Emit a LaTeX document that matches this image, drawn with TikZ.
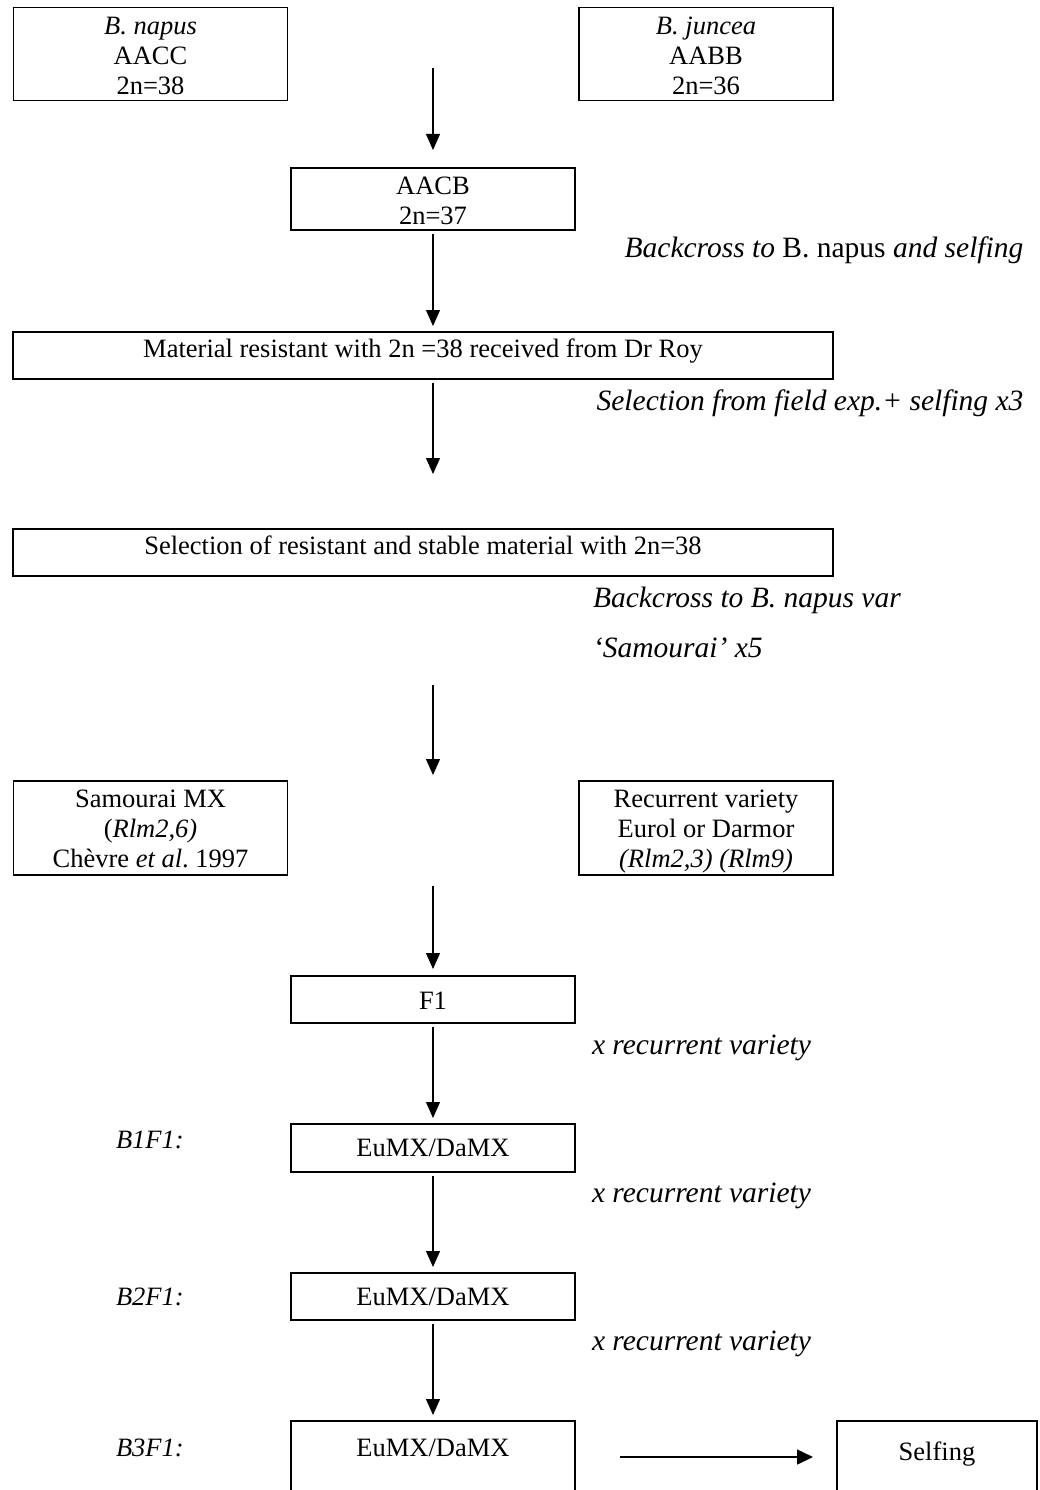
\documentclass[tikz,border=0pt]{standalone}
\usepackage{fontspec}
\setmainfont{Liberation Serif}
\usetikzlibrary{arrows.meta}
\begin{document}
\begin{tikzpicture}[x=1pt, y=-1pt,
  box/.style={draw=black, line width=1.5pt, inner sep=0pt, outer sep=0pt},
  txt/.style={inner sep=0pt, outer sep=0pt, font=\fontsize{26.5}{30}\selectfont, anchor=base},
  itxt/.style={txt, font=\fontsize{26.5}{30}\selectfont\itshape},
  side/.style={txt, font=\fontsize{29.5}{34}\selectfont},
  iside/.style={txt, font=\fontsize{29.5}{34}\selectfont\itshape},
  flow/.style={line width=1.2pt, -{Triangle[length=16pt,width=14pt]}},
  hflow/.style={line width=1.5pt, -{Triangle[length=16pt,width=15pt]}}
]
\useasboundingbox (0,0) rectangle (1039,1490);
\clip (0,0) rectangle (1039,1490);
\fill[white] (0,0) rectangle (1039,1490);

% ---------- boxes ----------
\node[box, minimum width=274pt, minimum height=93pt] (napus) at (150.5,54) {};
\node[box, minimum width=254pt, minimum height=93pt] (juncea) at (706,54) {};
\node[box, minimum width=284pt, minimum height=62pt] (aacb) at (433,199) {};
\node[box, minimum width=820pt, minimum height=47pt] (mat) at (423,355.5) {};
\node[box, minimum width=820pt, minimum height=47pt] (sel) at (423,552.5) {};
\node[box, minimum width=274pt, minimum height=94pt] (sam) at (150.5,828) {};
\node[box, minimum width=254pt, minimum height=94pt] (rec) at (706,828) {};
\node[box, minimum width=284pt, minimum height=47pt] (f1) at (433,999.5) {};
\node[box, minimum width=284pt, minimum height=48pt] (eu1) at (433,1148) {};
\node[box, minimum width=284pt, minimum height=47pt] (eu2) at (433,1296.5) {};
\node[box, minimum width=284pt, minimum height=89pt] (eu3) at (433,1465.5) {};
\node[box, minimum width=200pt, minimum height=89pt] (self) at (937,1465.5) {};

% ---------- texts in boxes ----------
\node[itxt] (napus1) at (150.5,35) {B. napus};
\node[txt] (napus2) at (150.5,65) {AACC};
\node[txt] (napus3) at (150.5,95) {2n=38};
\node[itxt] (juncea1) at (706,35) {B. juncea};
\node[txt] (juncea2) at (706,65) {AABB};
\node[txt] (juncea3) at (706,95) {2n=36};
\node[txt] (aacb1) at (433,194) {AACB};
\node[txt] (aacb2) at (433,224) {2n=37};
\node[txt] (matt) at (423,357) {Material resistant with 2n =38 received from Dr Roy};
\node[txt] (selt) at (423,554) {Selection of resistant and stable material with 2n=38};
\node[txt] (sam1) at (150.5,807) {Samourai MX};
\node[txt] (sam2) at (150.5,837) {(\textit{Rlm2,6)}};
\node[txt] (sam3) at (150.5,867) {Chèvre \textit{et al}.\ 1997};
\node[txt] (rec1) at (706,807) {Recurrent variety};
\node[txt] (rec2) at (706,837) {Eurol or Darmor};
\node[itxt] (rec3) at (706,867) {(Rlm2,3) (Rlm9)};
\node[txt] (f1t) at (433,1009) {F1};
\node[txt] (eu1t) at (433,1156) {EuMX/DaMX};
\node[txt] (eu2t) at (433,1305) {EuMX/DaMX};
\node[txt] (eu3t) at (433,1456) {EuMX/DaMX};
\node[txt] (selft) at (937,1460) {Selfing};

% ---------- side labels ----------
\node[side] (bc1) at (824,257) {\textit{Backcross to} B. napus \textit{and selfing}};
\node[iside] (fld) at (810,410) {Selection from field exp.+ selfing x3};
\node[iside, anchor=base west] (bc2) at (593,607) {Backcross to B. napus var};
\node[iside, anchor=base west] (bc3) at (593,657) {‘Samourai’ x5};
\node[iside, anchor=base west] (xr1) at (592,1054) {x recurrent variety};
\node[iside, anchor=base west] (xr2) at (592,1202) {x recurrent variety};
\node[iside, anchor=base west] (xr3) at (592,1350) {x recurrent variety};
\node[itxt, anchor=base west] (g1) at (116,1148) {B1F1:};
\node[itxt, anchor=base west] (g2) at (116,1305) {B2F1:};
\node[itxt, anchor=base west] (g3) at (116,1456) {B3F1:};

% ---------- connectors ----------
\coordinate (a1s) at (433,68);
\coordinate (a4s) at (433,685);
\coordinate (a4e) at (433,775);
\coordinate (a5s) at (433,886);
\coordinate (hs) at (620,1457);
\coordinate (he) at (813,1457);

\draw[flow, shorten >=18pt] (a1s) -- (a1s |- aacb.north);
\draw[flow, shorten <=4pt, shorten >=6pt] (aacb.south) -- (aacb.south |- mat.north);
\draw[flow, shorten <=4pt, shorten >=55pt] (aacb.south |- mat.south) -- (aacb.south |- sel.north);
\draw[flow] (a4s) -- (a4e);
\draw[flow, shorten >=7pt] (a5s) -- (f1.north);
\draw[flow, shorten <=4pt, shorten >=6pt] (f1.south) -- (eu1.north);
\draw[flow, shorten <=4pt, shorten >=6pt] (eu1.south) -- (eu2.north);
\draw[flow, shorten <=4pt, shorten >=6pt] (eu2.south) -- (eu3.north);
\draw[hflow] (hs) -- (he);
\end{tikzpicture}
\end{document}
